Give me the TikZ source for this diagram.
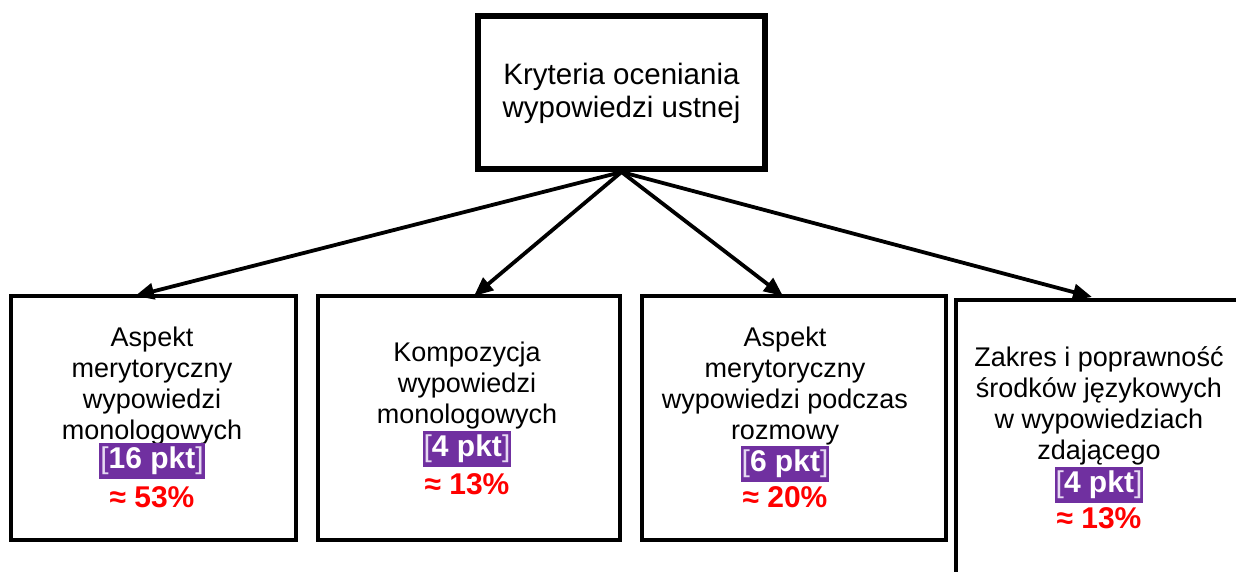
\documentclass[tikz,border=0pt]{standalone}
\usepackage{fontspec}
\setmainfont{Liberation Sans}
\usetikzlibrary{arrows.meta}
\definecolor{purp}{HTML}{7030A0}
\definecolor{brk}{HTML}{E6DAF2}
\definecolor{pred}{HTML}{FF0000}
\tikzset{
  box/.style={draw=black, line width=4pt, fill=white, inner sep=0pt},
  topbox/.style={draw=black, line width=6pt, fill=white, inner sep=0pt},
  txt/.style={align=center, inner sep=0pt, font=\fontsize{27}{31}\selectfont},
  toptxt/.style={align=center, inner sep=0pt, font=\fontsize{29.5}{33}\selectfont},
  pts/.style={fill=purp, text=white, inner xsep=1pt, inner ysep=0pt, minimum height=36pt, font=\fontsize{30}{31}\selectfont\bfseries},
  pct/.style={text=pred, inner sep=0pt, font=\fontsize{30}{31}\selectfont\bfseries},
  arr/.style={line width=3.8pt, -{Triangle[length=19pt,width=16pt]}}
}
\newcommand{\pk}[1]{{\mdseries\color{brk}[}#1{\mdseries\color{brk}]}}
\begin{document}
\begin{tikzpicture}[x=1pt,y=-1pt]
\clip (0,0) rectangle (1236,571);
\fill[white] (0,0) rectangle (1236,571);
% boxes
\node[topbox, minimum width=287pt, minimum height=153pt] (top) at (621.5,92.5) {};
\node[box, minimum width=285pt, minimum height=244pt] (b1) at (153.5,418) {};
\node[box, minimum width=302pt, minimum height=244pt] (b2) at (469,418) {};
\node[box, minimum width=304pt, minimum height=244pt] (b3) at (794,418) {};
\node[box, minimum width=320pt, minimum height=320pt, anchor=north west] (b4) at (954,298) {};
% texts
\node[toptxt] (t0) at (621.5,93) {Kryteria oceniania\\wypowiedzi ustnej};
\node[txt] (t1) at (152,386) {Aspekt\\merytoryczny\\wypowiedzi\\monologowych};
\node[pts] (p1) at (152,461) {\pk{16 pkt}};
\node[pct] (c1) at (152,497) {≈ 53\%};
\node[txt] (t2) at (467,386) {Kompozycja\\wypowiedzi\\monologowych};
\node[pts] (p2) at (467,449) {\pk{4 pkt}};
\node[pct] (c2) at (467,484) {≈ 13\%};
\node[txt] (t3) at (785,386) {Aspekt\\merytoryczny\\wypowiedzi podczas\\rozmowy};
\node[pts] (p3) at (785,464) {\pk{6 pkt}};
\node[pct] (c3) at (785,497) {≈ 20\%};
\node[txt] (t4) at (1099,406) {Zakres i poprawność\\środków językowych\\w wypowiedziach\\zdającego};
\node[pts] (p4) at (1099,485) {\pk{4 pkt}};
\node[pct] (c4) at (1099,518) {≈ 13\%};
% arrows
\coordinate (e1) at (135,296);
\coordinate (e2) at (474,296);
\coordinate (e3) at (783,296);
\coordinate (e4) at (1092,297);
\foreach \e in {e1,e2,e3,e4} \draw[arr] (top.south) -- (\e);
\end{tikzpicture}
\end{document}
